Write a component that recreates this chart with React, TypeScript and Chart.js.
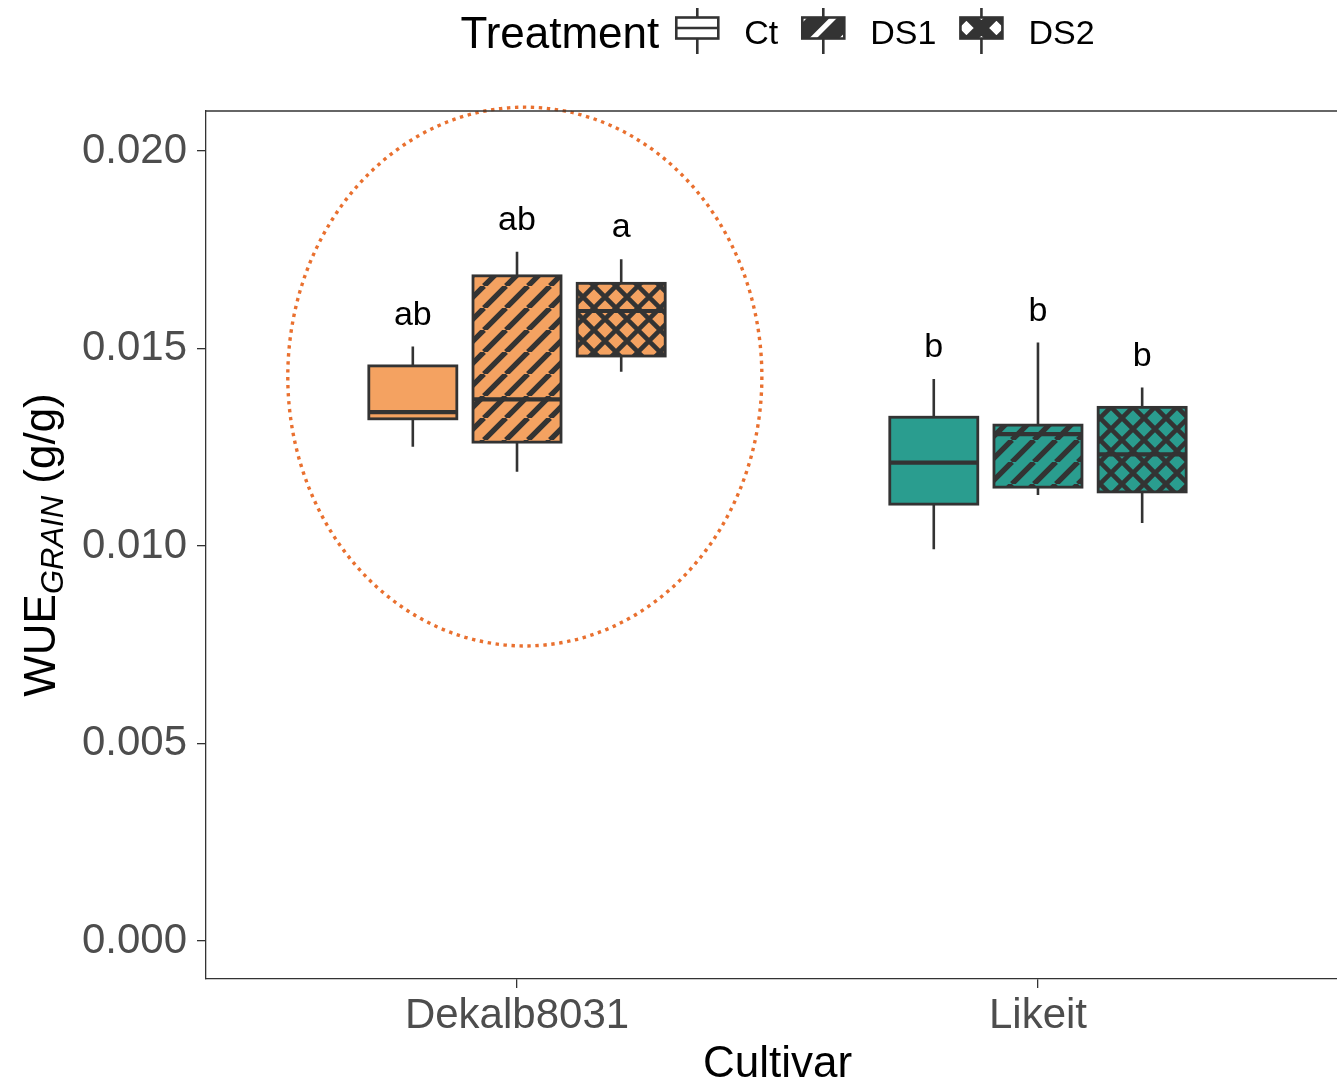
import React, { useEffect, useRef } from 'react';
import { Chart, registerables } from 'chart.js';

Chart.register(...registerables);

// ---------- data ----------
const CATEGORIES = ['Dekalb8031', 'Likeit'];
const TREATMENTS = ['Ct', 'DS1', 'DS2'];

const CT_MIN = [0.01251, 0.00992];
const CT_Q1 = [0.01322, 0.01106];
const CT_MED = [0.01339, 0.01211];
const CT_Q3 = [0.01456, 0.01326];
const CT_MAX = [0.01505, 0.01423];
const CT_LETTERS = ['ab', 'b'];

const DS1_MIN = [0.01188, 0.01129];
const DS1_Q1 = [0.01263, 0.01149];
const DS1_MED = [0.01371, 0.01283];
const DS1_Q3 = [0.01684, 0.01306];
const DS1_MAX = [0.01745, 0.01515];
const DS1_LETTERS = ['ab', 'b'];

const DS2_MIN = [0.01441, 0.01058];
const DS2_Q1 = [0.01481, 0.01137];
const DS2_MED = [0.01595, 0.01232];
const DS2_Q3 = [0.01665, 0.01351];
const DS2_MAX = [0.01726, 0.01401];
const DS2_LETTERS = ['a', 'b'];

const Y_TICKS = [0, 0.005, 0.01, 0.015, 0.02];
const Y_MIN = -0.000962;
const Y_MAX = 0.021013;
const X_MIN = 0.403;
const X_MAX = 2.574;
const X_PANEL_CENTER = 1.5;

// highlight ellipse (data units)
const ELLIPSE_CX = 1.015;
const ELLIPSE_CY = 0.01429;
const ELLIPSE_RX = 0.455;
const ELLIPSE_RY = 0.00682;

// ---------- styles ----------
const FONT = "'Liberation Sans', Arial, Helvetica, sans-serif";
const CULTIVAR_COLORS = ['#F4A261', '#2A9D8F'];
const LINE = '#333333';
const DODGE = [-0.2, 0, 0.2];
const PATTERNS = ['none', 'stripe', 'cross'];

const SERIES = [
  { name: TREATMENTS[0], min: CT_MIN, q1: CT_Q1, med: CT_MED, q3: CT_Q3, max: CT_MAX, letters: CT_LETTERS },
  { name: TREATMENTS[1], min: DS1_MIN, q1: DS1_Q1, med: DS1_MED, q3: DS1_Q3, max: DS1_MAX, letters: DS1_LETTERS },
  { name: TREATMENTS[2], min: DS2_MIN, q1: DS2_Q1, med: DS2_MED, q3: DS2_Q3, max: DS2_MAX, letters: DS2_LETTERS },
];

function makePattern(ctx: CanvasRenderingContext2D, bg: string, kind: string): any {
  if (kind === 'none') return bg;
  const P = 22;
  const c = document.createElement('canvas');
  c.width = P;
  c.height = P;
  const g = c.getContext('2d')!;
  g.fillStyle = bg;
  g.fillRect(0, 0, P, P);
  g.strokeStyle = LINE;
  g.lineWidth = kind === 'cross' ? 4.6 : 5.4;
  g.beginPath();
  for (const k of [-1, 0, 1]) {
    g.moveTo(k * P, P);
    g.lineTo(k * P + P, 0);
    if (kind === 'cross') {
      g.moveTo(k * P, 0);
      g.lineTo(k * P + P, P);
    }
  }
  g.stroke();
  return ctx.createPattern(c, 'repeat');
}

function hatchRect(
  ctx: CanvasRenderingContext2D, x: number, y: number, w: number, h: number,
  kind: string, P: number, lw: number, ax: number, ay: number,
) {
  ctx.save();
  ctx.beginPath();
  ctx.rect(x, y, w, h);
  ctx.clip();
  ctx.fillStyle = '#FFFFFF';
  ctx.fillRect(x, y, w, h);
  if (kind !== 'none') {
    ctx.strokeStyle = LINE;
    ctx.lineWidth = lw;
    ctx.beginPath();
    for (let k = -6; k <= 6; k++) {
      const c1 = ax + ay + k * P;
      ctx.moveTo(c1 - (y - 60), y - 60);
      ctx.lineTo(c1 - (y + h + 60), y + h + 60);
      if (kind === 'cross') {
        const c2 = ax - ay + k * P;
        ctx.moveTo(c2 + (y - 60), y - 60);
        ctx.lineTo(c2 + (y + h + 60), y + h + 60);
      }
    }
    ctx.stroke();
  }
  ctx.restore();
}

export default function App() {
  const ref = useRef<HTMLCanvasElement>(null);

  useEffect(() => {
    document.body.style.margin = '0';
    document.body.style.overflow = 'hidden';
    const canvas = ref.current!;
    const ctx = canvas.getContext('2d')!;

    const datasets = SERIES.map((s, t) => ({
      label: s.name,
      data: CATEGORIES.map((_, i) => ({ x: i + 1 + DODGE[t], y: [s.q1[i], s.q3[i]] })),
      backgroundColor: CULTIVAR_COLORS.map((c) => makePattern(ctx, c, PATTERNS[t])),
      borderWidth: 0,
      barThickness: 88,
      grouped: false,
    }));

    const boxPlugin = {
      id: 'boxplot',
      afterDatasetsDraw(chart: any) {
        const c: CanvasRenderingContext2D = chart.ctx;
        const ys = chart.scales.y;
        const xs = chart.scales.x;
        c.save();
        SERIES.forEach((s, t) => {
          const meta = chart.getDatasetMeta(t);
          meta.data.forEach((el: any, i: number) => {
            const { x, width } = el.getProps(['x', 'width'], true);
            const l = x - width / 2;
            const r = x + width / 2;
            const pMin = ys.getPixelForValue(s.min[i]);
            const pQ1 = ys.getPixelForValue(s.q1[i]);
            const pMed = ys.getPixelForValue(s.med[i]);
            const pQ3 = ys.getPixelForValue(s.q3[i]);
            const pMax = ys.getPixelForValue(s.max[i]);
            c.strokeStyle = LINE;
            c.lineCap = 'butt';
            c.lineWidth = 2.6;
            c.beginPath();
            c.moveTo(x, pQ3);
            c.lineTo(x, pMax);
            c.moveTo(x, pQ1);
            c.lineTo(x, pMin);
            c.stroke();
            c.lineWidth = 2.8;
            c.strokeRect(l, pQ3, width, pQ1 - pQ3);
            c.lineWidth = 4.2;
            c.beginPath();
            c.moveTo(l, pMed);
            c.lineTo(r, pMed);
            c.stroke();
            c.fillStyle = '#000000';
            c.font = `34px ${FONT}`;
            c.textAlign = 'center';
            c.textBaseline = 'alphabetic';
            c.fillText(s.letters[i], x, pMax - 22);
          });
        });
        // dotted highlight ellipse
        const ecx = xs.getPixelForValue(ELLIPSE_CX);
        const ecy = ys.getPixelForValue(ELLIPSE_CY);
        const erx = Math.abs(xs.getPixelForValue(ELLIPSE_CX + ELLIPSE_RX) - ecx);
        const ery = Math.abs(ys.getPixelForValue(ELLIPSE_CY + ELLIPSE_RY) - ecy);
        c.strokeStyle = '#E9702F';
        c.lineWidth = 3.4;
        c.setLineDash([3.4, 4.6]);
        c.beginPath();
        c.ellipse(ecx, ecy, erx, ery, 0, 0, Math.PI * 2);
        c.stroke();
        c.restore();
      },
      afterDraw(chart: any) {
        const c: CanvasRenderingContext2D = chart.ctx;
        const area = chart.chartArea;
        const xs = chart.scales.x;
        const pc = xs.getPixelForValue(X_PANEL_CENTER);
        c.save();
        // top panel border
        c.strokeStyle = LINE;
        c.lineWidth = 1.3;
        c.beginPath();
        c.moveTo(area.left, area.top);
        c.lineTo(area.right, area.top);
        c.stroke();

        // x title
        c.fillStyle = '#000000';
        c.textAlign = 'center';
        c.textBaseline = 'alphabetic';
        c.font = `44px ${FONT}`;
        c.fillText('Cultivar', pc, 1077);

        // y title with subscript
        const cy = (area.top + area.bottom) / 2;
        c.save();
        c.translate(55, cy);
        c.rotate(-Math.PI / 2);
        c.textAlign = 'left';
        const mainFont = `44px ${FONT}`;
        const subFont = `italic 31px ${FONT}`;
        c.font = mainFont;
        const w1 = c.measureText('WUE').width;
        const w3 = c.measureText(' (g/g)').width;
        c.font = subFont;
        const w2 = c.measureText('GRAIN').width;
        let sx = -(w1 + w2 + w3) / 2;
        c.font = mainFont;
        c.fillText('WUE', sx, 0);
        sx += w1;
        c.font = subFont;
        c.fillText('GRAIN', sx, 8);
        sx += w2;
        c.font = mainFont;
        c.fillText(' (g/g)', sx, 0);
        c.restore();

        // legend
        const titleFont = `44px ${FONT}`;
        const labFont = `34px ${FONT}`;
        const keyW = 42;
        const keyH = 21;
        c.font = titleFont;
        const tw = c.measureText('Treatment').width;
        c.font = labFont;
        const lws = TREATMENTS.map((n) => c.measureText(n).width);
        const gapTK = 17;
        const gapKL = 26;
        const gapLK = 24;
        let total = tw;
        TREATMENTS.forEach((_, i) => {
          total += (i === 0 ? gapTK : gapLK) + keyW + gapKL + lws[i];
        });
        let lx = pc - total / 2;
        c.textAlign = 'left';
        c.fillStyle = '#000000';
        c.font = titleFont;
        c.fillText('Treatment', lx, 47.5);
        lx += tw;
        const kcy = 28;
        TREATMENTS.forEach((n, i) => {
          lx += i === 0 ? gapTK : gapLK;
          const kx = lx;
          const ky = kcy - keyH / 2;
          const kcx = kx + keyW / 2;
          if (PATTERNS[i] === 'stripe') {
            hatchRect(c, kx, ky, keyW, keyH, 'stripe', 30, 16, kcx + 15, kcy);
          } else if (PATTERNS[i] === 'cross') {
            hatchRect(c, kx, ky, keyW, keyH, 'cross', 30, 11, kcx, kcy);
          } else {
            hatchRect(c, kx, ky, keyW, keyH, 'none', 30, 0, kcx, kcy);
          }
          c.strokeStyle = LINE;
          c.lineWidth = 2.6;
          c.strokeRect(kx, ky, keyW, keyH);
          c.beginPath();
          c.moveTo(kcx, ky);
          c.lineTo(kcx, 8);
          c.moveTo(kcx, ky + keyH);
          c.lineTo(kcx, 54);
          if (PATTERNS[i] === 'none') {
            c.moveTo(kx, kcy);
            c.lineTo(kx + keyW, kcy);
          }
          c.stroke();
          lx += keyW + gapKL;
          c.fillStyle = '#000000';
          c.font = labFont;
          c.fillText(n, lx, 43.5);
          lx += lws[i];
        });
        c.restore();
      },
    };

    const chart = new Chart(canvas, {
      type: 'bar',
      data: { datasets: datasets as any },
      options: {
        animation: false,
        responsive: false,
        maintainAspectRatio: false,
        layout: { padding: { top: 111, left: 0, right: 0, bottom: 0 } },
        plugins: { legend: { display: false }, tooltip: { enabled: false }, title: { display: false } },
        scales: {
          x: {
            type: 'linear',
            min: X_MIN,
            max: X_MAX,
            offset: false,
            afterFit: (s: any) => { s.height = 104; },
            afterBuildTicks: (s: any) => { s.ticks = CATEGORIES.map((_, i) => ({ value: i + 1 })); },
            grid: { offset: false, drawOnChartArea: false, drawTicks: true, tickLength: 9, color: LINE, lineWidth: 1.3 },
            border: { display: true, color: LINE, width: 1.3 },
            ticks: {
              autoSkip: false,
              maxRotation: 0,
              padding: 3,
              color: '#4D4D4D',
              font: { family: FONT, size: 42 },
              callback: (v: any) => CATEGORIES[Math.round(Number(v)) - 1] ?? '',
            },
          },
          y: {
            type: 'linear',
            min: Y_MIN,
            max: Y_MAX,
            afterFit: (s: any) => { s.width = 206; },
            afterBuildTicks: (s: any) => { s.ticks = Y_TICKS.map((v) => ({ value: v })); },
            grid: { drawOnChartArea: false, drawTicks: true, tickLength: 9, color: LINE, lineWidth: 1.3 },
            border: { display: true, color: LINE, width: 1.3 },
            ticks: {
              padding: 10,
              color: '#4D4D4D',
              font: { family: FONT, size: 42 },
              callback: (v: any) => Number(v).toFixed(3),
            },
          },
        },
      },
      plugins: [boxPlugin],
    });

    return () => chart.destroy();
  }, []);

  return (
    <div style={{ width: 1337, height: 1083, background: '#FFFFFF' }}>
      <canvas ref={ref} width={1337} height={1083} style={{ display: 'block' }} />
    </div>
  );
}
